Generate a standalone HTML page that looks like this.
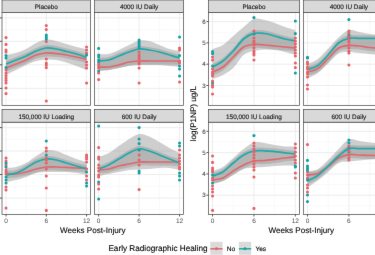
<!DOCTYPE html>
<html><head><meta charset="utf-8"><style>
html,body{margin:0;padding:0;background:#fff;}
body{width:375px;height:255px;overflow:hidden;position:relative;font-family:"Liberation Sans", sans-serif;}
svg text{font-family:"Liberation Sans", sans-serif;text-rendering:geometricPrecision;stroke:#222;stroke-width:0.14;}
</style></head><body>
<svg width="375" height="255" viewBox="0 0 375 255" style="position:absolute;left:0;top:0">
<defs><filter id="bl" color-interpolation-filters="sRGB" x="0" y="0" width="375" height="255" filterUnits="userSpaceOnUse"><feConvolveMatrix order="3" kernelMatrix="0 1 0 1 16 1 0 1 0" edgeMode="duplicate"/></filter></defs>
<g filter="url(#bl)">
<rect width="375" height="255" fill="#fff"/>
<clipPath id="c00"><rect x="2.00" y="12.50" width="88.60" height="92.85"/></clipPath>
<g clip-path="url(#c00)">
<line x1="2.00" x2="90.60" y1="6.20" y2="6.20" stroke="#f2f2f2" stroke-width="0.5"/>
<line x1="2.00" x2="90.60" y1="29.60" y2="29.60" stroke="#f2f2f2" stroke-width="0.5"/>
<line x1="2.00" x2="90.60" y1="53.00" y2="53.00" stroke="#f2f2f2" stroke-width="0.5"/>
<line x1="2.00" x2="90.60" y1="76.40" y2="76.40" stroke="#f2f2f2" stroke-width="0.5"/>
<line x1="2.00" x2="90.60" y1="99.80" y2="99.80" stroke="#f2f2f2" stroke-width="0.5"/>
<line x1="2.00" x2="90.60" y1="123.20" y2="123.20" stroke="#f2f2f2" stroke-width="0.5"/>
<line x1="26.16" x2="26.16" y1="12.50" y2="105.35" stroke="#f2f2f2" stroke-width="0.5"/>
<line x1="66.44" x2="66.44" y1="12.50" y2="105.35" stroke="#f2f2f2" stroke-width="0.5"/>
<line x1="2.00" x2="90.60" y1="17.90" y2="17.90" stroke="#ebebeb" stroke-width="0.9"/>
<line x1="2.00" x2="90.60" y1="41.30" y2="41.30" stroke="#ebebeb" stroke-width="0.9"/>
<line x1="2.00" x2="90.60" y1="64.80" y2="64.80" stroke="#ebebeb" stroke-width="0.9"/>
<line x1="2.00" x2="90.60" y1="88.40" y2="88.40" stroke="#ebebeb" stroke-width="0.9"/>
<line x1="6.03" x2="6.03" y1="12.50" y2="105.35" stroke="#ebebeb" stroke-width="0.9"/>
<line x1="46.30" x2="46.30" y1="12.50" y2="105.35" stroke="#ebebeb" stroke-width="0.9"/>
<line x1="86.57" x2="86.57" y1="12.50" y2="105.35" stroke="#ebebeb" stroke-width="0.9"/>
<path d="M6.03,61.00 C7.71,60.33 12.74,58.33 16.10,57.00 C19.45,55.67 22.81,54.50 26.16,53.00 C29.52,51.50 32.88,49.33 36.23,48.00 C39.59,46.67 42.94,45.33 46.30,45.00 C49.66,44.67 53.01,45.42 56.37,46.00 C59.72,46.58 63.08,47.67 66.44,48.50 C69.79,49.33 73.15,50.00 76.50,51.00 C79.86,52.00 84.89,53.92 86.57,54.50 L86.57,70.00 C84.89,69.33 79.86,67.25 76.50,66.00 C73.15,64.75 69.79,63.50 66.44,62.50 C63.08,61.50 59.72,60.50 56.37,60.00 C53.01,59.50 49.66,59.33 46.30,59.50 C42.94,59.67 39.59,60.08 36.23,61.00 C32.88,61.92 29.52,63.50 26.16,65.00 C22.81,66.50 19.45,68.33 16.10,70.00 C12.74,71.67 7.71,74.17 6.03,75.00 Z" fill="#999" fill-opacity="0.48"/>
<path d="M6.03,55.00 C7.71,54.67 12.74,54.00 16.10,53.00 C19.45,52.00 22.81,50.67 26.16,49.00 C29.52,47.33 32.88,44.58 36.23,43.00 C39.59,41.42 42.94,39.83 46.30,39.50 C49.66,39.17 53.01,40.25 56.37,41.00 C59.72,41.75 63.08,43.00 66.44,44.00 C69.79,45.00 73.15,46.17 76.50,47.00 C79.86,47.83 84.89,48.67 86.57,49.00 L86.57,63.00 C84.89,62.58 79.86,61.25 76.50,60.50 C73.15,59.75 69.79,59.07 66.44,58.50 C63.08,57.93 59.72,57.43 56.37,57.10 C53.01,56.77 49.66,56.27 46.30,56.50 C42.94,56.73 39.59,57.33 36.23,58.50 C32.88,59.67 29.52,62.00 26.16,63.50 C22.81,65.00 19.45,66.17 16.10,67.50 C12.74,68.83 7.71,70.83 6.03,71.50 Z" fill="#999" fill-opacity="0.48"/>
<path d="M6.03,68.00 C7.71,67.33 12.74,65.33 16.10,64.00 C19.45,62.67 22.81,61.50 26.16,60.00 C29.52,58.50 32.88,56.17 36.23,55.00 C39.59,53.83 42.94,53.23 46.30,53.00 C49.66,52.77 53.01,53.27 56.37,53.60 C59.72,53.93 63.08,54.43 66.44,55.00 C69.79,55.57 73.15,56.25 76.50,57.00 C79.86,57.75 84.89,59.08 86.57,59.50" fill="none" stroke="#e0686e" stroke-width="1.7"/>
<path d="M6.03,64.00 C7.71,63.33 12.74,61.33 16.10,60.00 C19.45,58.67 22.81,57.50 26.16,56.00 C29.52,54.50 32.88,52.33 36.23,51.00 C39.59,49.67 42.94,48.33 46.30,48.00 C49.66,47.67 53.01,48.42 56.37,49.00 C59.72,49.58 63.08,50.67 66.44,51.50 C69.79,52.33 73.15,53.00 76.50,54.00 C79.86,55.00 84.89,56.92 86.57,57.50" fill="none" stroke="#1eaaaa" stroke-width="1.7"/>
<circle cx="6.03" cy="37.60" r="1.55" fill="#e4636a"/>
<circle cx="6.03" cy="44.40" r="1.55" fill="#e4636a"/>
<circle cx="6.03" cy="50.00" r="1.55" fill="#e4636a"/>
<circle cx="6.03" cy="52.00" r="1.55" fill="#e4636a"/>
<circle cx="6.03" cy="70.00" r="1.55" fill="#e4636a"/>
<circle cx="6.03" cy="73.00" r="1.55" fill="#e4636a"/>
<circle cx="6.03" cy="75.60" r="1.55" fill="#e4636a"/>
<circle cx="6.03" cy="78.00" r="1.55" fill="#e4636a"/>
<circle cx="6.03" cy="80.40" r="1.55" fill="#e4636a"/>
<circle cx="6.03" cy="83.00" r="1.55" fill="#e4636a"/>
<circle cx="6.03" cy="88.00" r="1.55" fill="#e4636a"/>
<circle cx="6.03" cy="93.60" r="1.55" fill="#e4636a"/>
<circle cx="6.03" cy="55.60" r="1.55" fill="#15a0a3"/>
<circle cx="6.03" cy="58.00" r="1.55" fill="#15a0a3"/>
<circle cx="6.03" cy="67.50" r="1.55" fill="#15a0a3"/>
<circle cx="46.30" cy="25.60" r="1.55" fill="#e4636a"/>
<circle cx="46.30" cy="29.60" r="1.55" fill="#e4636a"/>
<circle cx="46.30" cy="41.60" r="1.55" fill="#e4636a"/>
<circle cx="46.30" cy="59.00" r="1.55" fill="#e4636a"/>
<circle cx="46.30" cy="63.00" r="1.55" fill="#e4636a"/>
<circle cx="46.30" cy="65.00" r="1.55" fill="#e4636a"/>
<circle cx="46.30" cy="67.60" r="1.55" fill="#e4636a"/>
<circle cx="46.30" cy="101.00" r="1.55" fill="#e4636a"/>
<circle cx="46.30" cy="35.00" r="1.55" fill="#15a0a3"/>
<circle cx="46.30" cy="37.00" r="1.55" fill="#15a0a3"/>
<circle cx="46.30" cy="39.00" r="1.55" fill="#15a0a3"/>
<circle cx="86.57" cy="47.00" r="1.55" fill="#e4636a"/>
<circle cx="86.57" cy="50.00" r="1.55" fill="#e4636a"/>
<circle cx="86.57" cy="53.00" r="1.55" fill="#e4636a"/>
<circle cx="86.57" cy="62.00" r="1.55" fill="#e4636a"/>
<circle cx="86.57" cy="65.00" r="1.55" fill="#e4636a"/>
<circle cx="86.57" cy="68.00" r="1.55" fill="#e4636a"/>
<circle cx="86.57" cy="83.00" r="1.55" fill="#e4636a"/>
<circle cx="86.57" cy="55.00" r="1.55" fill="#15a0a3"/>
</g>
<rect x="2.00" y="12.50" width="88.60" height="92.85" fill="none" stroke="#4a4a4a" stroke-width="0.72"/>
<rect x="2.00" y="0.00" width="88.60" height="12.50" fill="#d9d9d9" stroke="#4a4a4a" stroke-width="0.72"/>
<text x="46.30" y="9.05" font-size="6.4" fill="#1a1a1a" text-anchor="middle">Placebo</text>
<line x1="0.00" x2="2.00" y1="17.90" y2="17.90" stroke="#333" stroke-width="0.8"/>
<line x1="0.00" x2="2.00" y1="41.30" y2="41.30" stroke="#333" stroke-width="0.8"/>
<line x1="0.00" x2="2.00" y1="64.80" y2="64.80" stroke="#333" stroke-width="0.8"/>
<line x1="0.00" x2="2.00" y1="88.40" y2="88.40" stroke="#333" stroke-width="0.8"/>
<clipPath id="c01"><rect x="2.00" y="122.20" width="88.60" height="92.30"/></clipPath>
<g clip-path="url(#c01)">
<line x1="2.00" x2="90.60" y1="115.90" y2="115.90" stroke="#f2f2f2" stroke-width="0.5"/>
<line x1="2.00" x2="90.60" y1="139.30" y2="139.30" stroke="#f2f2f2" stroke-width="0.5"/>
<line x1="2.00" x2="90.60" y1="162.70" y2="162.70" stroke="#f2f2f2" stroke-width="0.5"/>
<line x1="2.00" x2="90.60" y1="186.10" y2="186.10" stroke="#f2f2f2" stroke-width="0.5"/>
<line x1="2.00" x2="90.60" y1="209.50" y2="209.50" stroke="#f2f2f2" stroke-width="0.5"/>
<line x1="2.00" x2="90.60" y1="232.90" y2="232.90" stroke="#f2f2f2" stroke-width="0.5"/>
<line x1="26.16" x2="26.16" y1="122.20" y2="214.50" stroke="#f2f2f2" stroke-width="0.5"/>
<line x1="66.44" x2="66.44" y1="122.20" y2="214.50" stroke="#f2f2f2" stroke-width="0.5"/>
<line x1="2.00" x2="90.60" y1="127.60" y2="127.60" stroke="#ebebeb" stroke-width="0.9"/>
<line x1="2.00" x2="90.60" y1="151.00" y2="151.00" stroke="#ebebeb" stroke-width="0.9"/>
<line x1="2.00" x2="90.60" y1="174.50" y2="174.50" stroke="#ebebeb" stroke-width="0.9"/>
<line x1="2.00" x2="90.60" y1="198.10" y2="198.10" stroke="#ebebeb" stroke-width="0.9"/>
<line x1="6.03" x2="6.03" y1="122.20" y2="214.50" stroke="#ebebeb" stroke-width="0.9"/>
<line x1="46.30" x2="46.30" y1="122.20" y2="214.50" stroke="#ebebeb" stroke-width="0.9"/>
<line x1="86.57" x2="86.57" y1="122.20" y2="214.50" stroke="#ebebeb" stroke-width="0.9"/>
<path d="M6.03,171.00 C7.71,170.83 12.74,171.00 16.10,170.00 C19.45,169.00 22.81,166.83 26.16,165.00 C29.52,163.17 32.88,160.50 36.23,159.00 C39.59,157.50 42.94,156.33 46.30,156.00 C49.66,155.67 53.01,156.33 56.37,157.00 C59.72,157.67 63.08,159.00 66.44,160.00 C69.79,161.00 73.15,162.17 76.50,163.00 C79.86,163.83 84.89,164.67 86.57,165.00 L86.57,175.00 C84.89,174.67 79.86,173.50 76.50,173.00 C73.15,172.50 69.79,172.17 66.44,172.00 C63.08,171.83 59.72,172.00 56.37,172.00 C53.01,172.00 49.66,171.83 46.30,172.00 C42.94,172.17 39.59,172.17 36.23,173.00 C32.88,173.83 29.52,175.83 26.16,177.00 C22.81,178.17 19.45,179.17 16.10,180.00 C12.74,180.83 7.71,181.67 6.03,182.00 Z" fill="#999" fill-opacity="0.48"/>
<path d="M6.03,168.00 C7.71,167.83 12.74,167.83 16.10,167.00 C19.45,166.17 22.81,164.83 26.16,163.00 C29.52,161.17 32.88,158.08 36.23,156.00 C39.59,153.92 42.94,151.33 46.30,150.50 C49.66,149.67 53.01,150.25 56.37,151.00 C59.72,151.75 63.08,153.67 66.44,155.00 C69.79,156.33 73.15,157.83 76.50,159.00 C79.86,160.17 84.89,161.50 86.57,162.00 L86.57,172.50 C84.89,172.33 79.86,171.77 76.50,171.50 C73.15,171.23 69.79,171.07 66.44,170.90 C63.08,170.73 59.72,170.57 56.37,170.50 C53.01,170.43 49.66,170.17 46.30,170.50 C42.94,170.83 39.59,171.67 36.23,172.50 C32.88,173.33 29.52,174.67 26.16,175.50 C22.81,176.33 19.45,177.00 16.10,177.50 C12.74,178.00 7.71,178.33 6.03,178.50 Z" fill="#999" fill-opacity="0.48"/>
<path d="M6.03,174.00 C7.71,174.00 12.74,174.33 16.10,174.00 C19.45,173.67 22.81,172.83 26.16,172.00 C29.52,171.17 32.88,169.83 36.23,169.00 C39.59,168.17 42.94,167.33 46.30,167.00 C49.66,166.67 53.01,166.93 56.37,167.00 C59.72,167.07 63.08,167.23 66.44,167.40 C69.79,167.57 73.15,167.90 76.50,168.00 C79.86,168.10 84.89,168.00 86.57,168.00" fill="none" stroke="#e0686e" stroke-width="1.7"/>
<path d="M6.03,175.00 C7.71,174.67 12.74,174.17 16.10,173.00 C19.45,171.83 22.81,169.83 26.16,168.00 C29.52,166.17 32.88,163.50 36.23,162.00 C39.59,160.50 42.94,159.33 46.30,159.00 C49.66,158.67 53.01,159.33 56.37,160.00 C59.72,160.67 63.08,162.00 66.44,163.00 C69.79,164.00 73.15,165.00 76.50,166.00 C79.86,167.00 84.89,168.50 86.57,169.00" fill="none" stroke="#1eaaaa" stroke-width="1.7"/>
<circle cx="6.03" cy="158.00" r="1.55" fill="#e4636a"/>
<circle cx="6.03" cy="161.00" r="1.55" fill="#e4636a"/>
<circle cx="6.03" cy="165.00" r="1.55" fill="#e4636a"/>
<circle cx="6.03" cy="170.00" r="1.55" fill="#e4636a"/>
<circle cx="6.03" cy="172.00" r="1.55" fill="#e4636a"/>
<circle cx="6.03" cy="174.00" r="1.55" fill="#e4636a"/>
<circle cx="6.03" cy="187.00" r="1.55" fill="#e4636a"/>
<circle cx="6.03" cy="190.00" r="1.55" fill="#e4636a"/>
<circle cx="6.03" cy="208.00" r="1.55" fill="#e4636a"/>
<circle cx="6.03" cy="163.00" r="1.55" fill="#15a0a3"/>
<circle cx="6.03" cy="167.00" r="1.55" fill="#15a0a3"/>
<circle cx="6.03" cy="177.00" r="1.55" fill="#15a0a3"/>
<circle cx="6.03" cy="180.00" r="1.55" fill="#15a0a3"/>
<circle cx="6.03" cy="183.00" r="1.55" fill="#15a0a3"/>
<circle cx="46.30" cy="141.00" r="1.55" fill="#15a0a3"/>
<circle cx="46.30" cy="155.00" r="1.55" fill="#15a0a3"/>
<circle cx="46.30" cy="148.00" r="1.55" fill="#e4636a"/>
<circle cx="46.30" cy="151.00" r="1.55" fill="#e4636a"/>
<circle cx="46.30" cy="158.00" r="1.55" fill="#e4636a"/>
<circle cx="46.30" cy="160.00" r="1.55" fill="#e4636a"/>
<circle cx="46.30" cy="163.00" r="1.55" fill="#e4636a"/>
<circle cx="46.30" cy="169.00" r="1.55" fill="#e4636a"/>
<circle cx="46.30" cy="176.00" r="1.55" fill="#e4636a"/>
<circle cx="46.30" cy="188.00" r="1.55" fill="#e4636a"/>
<circle cx="46.30" cy="210.40" r="1.55" fill="#e4636a"/>
<circle cx="86.57" cy="155.00" r="1.55" fill="#e4636a"/>
<circle cx="86.57" cy="157.00" r="1.55" fill="#e4636a"/>
<circle cx="86.57" cy="159.00" r="1.55" fill="#e4636a"/>
<circle cx="86.57" cy="162.00" r="1.55" fill="#e4636a"/>
<circle cx="86.57" cy="176.00" r="1.55" fill="#e4636a"/>
<circle cx="86.57" cy="180.00" r="1.55" fill="#e4636a"/>
<circle cx="86.57" cy="169.00" r="1.55" fill="#e4636a"/>
<circle cx="86.57" cy="172.00" r="1.55" fill="#15a0a3"/>
<circle cx="86.57" cy="183.00" r="1.55" fill="#15a0a3"/>
<circle cx="86.57" cy="186.00" r="1.55" fill="#15a0a3"/>
</g>
<rect x="2.00" y="122.20" width="88.60" height="92.30" fill="none" stroke="#4a4a4a" stroke-width="0.72"/>
<rect x="2.00" y="109.50" width="88.60" height="12.70" fill="#d9d9d9" stroke="#4a4a4a" stroke-width="0.72"/>
<text x="46.30" y="118.65" font-size="6.4" fill="#1a1a1a" text-anchor="middle">150,000 IU Loading</text>
<line x1="6.03" x2="6.03" y1="214.50" y2="216.50" stroke="#333" stroke-width="0.8"/>
<text x="6.03" y="223.30" font-size="6.5" fill="#4d4d4d" style="stroke:none" text-anchor="middle">0</text>
<line x1="46.30" x2="46.30" y1="214.50" y2="216.50" stroke="#333" stroke-width="0.8"/>
<text x="46.30" y="223.30" font-size="6.5" fill="#4d4d4d" style="stroke:none" text-anchor="middle">6</text>
<line x1="86.57" x2="86.57" y1="214.50" y2="216.50" stroke="#333" stroke-width="0.8"/>
<text x="86.57" y="223.30" font-size="6.5" fill="#4d4d4d" style="stroke:none" text-anchor="middle">12</text>
<line x1="0.00" x2="2.00" y1="127.60" y2="127.60" stroke="#333" stroke-width="0.8"/>
<line x1="0.00" x2="2.00" y1="151.00" y2="151.00" stroke="#333" stroke-width="0.8"/>
<line x1="0.00" x2="2.00" y1="174.50" y2="174.50" stroke="#333" stroke-width="0.8"/>
<line x1="0.00" x2="2.00" y1="198.10" y2="198.10" stroke="#333" stroke-width="0.8"/>
<clipPath id="c10"><rect x="94.60" y="12.50" width="89.00" height="92.85"/></clipPath>
<g clip-path="url(#c10)">
<line x1="94.60" x2="183.60" y1="6.20" y2="6.20" stroke="#f2f2f2" stroke-width="0.5"/>
<line x1="94.60" x2="183.60" y1="29.60" y2="29.60" stroke="#f2f2f2" stroke-width="0.5"/>
<line x1="94.60" x2="183.60" y1="53.00" y2="53.00" stroke="#f2f2f2" stroke-width="0.5"/>
<line x1="94.60" x2="183.60" y1="76.40" y2="76.40" stroke="#f2f2f2" stroke-width="0.5"/>
<line x1="94.60" x2="183.60" y1="99.80" y2="99.80" stroke="#f2f2f2" stroke-width="0.5"/>
<line x1="94.60" x2="183.60" y1="123.20" y2="123.20" stroke="#f2f2f2" stroke-width="0.5"/>
<line x1="118.87" x2="118.87" y1="12.50" y2="105.35" stroke="#f2f2f2" stroke-width="0.5"/>
<line x1="159.33" x2="159.33" y1="12.50" y2="105.35" stroke="#f2f2f2" stroke-width="0.5"/>
<line x1="94.60" x2="183.60" y1="17.90" y2="17.90" stroke="#ebebeb" stroke-width="0.9"/>
<line x1="94.60" x2="183.60" y1="41.30" y2="41.30" stroke="#ebebeb" stroke-width="0.9"/>
<line x1="94.60" x2="183.60" y1="64.80" y2="64.80" stroke="#ebebeb" stroke-width="0.9"/>
<line x1="94.60" x2="183.60" y1="88.40" y2="88.40" stroke="#ebebeb" stroke-width="0.9"/>
<line x1="98.65" x2="98.65" y1="12.50" y2="105.35" stroke="#ebebeb" stroke-width="0.9"/>
<line x1="139.10" x2="139.10" y1="12.50" y2="105.35" stroke="#ebebeb" stroke-width="0.9"/>
<line x1="179.55" x2="179.55" y1="12.50" y2="105.35" stroke="#ebebeb" stroke-width="0.9"/>
<path d="M98.65,58.00 C100.33,57.83 105.39,57.83 108.76,57.00 C112.13,56.17 115.50,54.33 118.87,53.00 C122.24,51.67 125.62,50.17 128.99,49.00 C132.36,47.83 135.73,46.33 139.10,46.00 C142.47,45.67 145.84,46.50 149.21,47.00 C152.58,47.50 155.96,48.17 159.33,49.00 C162.70,49.83 166.07,51.00 169.44,52.00 C172.81,53.00 177.87,54.50 179.55,55.00 L179.55,67.00 C177.87,66.83 172.81,66.33 169.44,66.00 C166.07,65.67 162.70,65.17 159.33,65.00 C155.96,64.83 152.58,65.00 149.21,65.00 C145.84,65.00 142.47,64.83 139.10,65.00 C135.73,65.17 132.36,65.50 128.99,66.00 C125.62,66.50 122.24,67.33 118.87,68.00 C115.50,68.67 112.13,69.50 108.76,70.00 C105.39,70.50 100.33,70.83 98.65,71.00 Z" fill="#999" fill-opacity="0.48"/>
<path d="M98.65,54.00 C100.33,54.00 105.39,54.67 108.76,54.00 C112.13,53.33 115.50,51.50 118.87,50.00 C122.24,48.50 125.62,46.58 128.99,45.00 C132.36,43.42 135.73,41.17 139.10,40.50 C142.47,39.83 145.84,40.25 149.21,41.00 C152.58,41.75 155.96,43.67 159.33,45.00 C162.70,46.33 166.07,48.00 169.44,49.00 C172.81,50.00 177.87,50.67 179.55,51.00 L179.55,64.50 C177.87,64.50 172.81,64.50 169.44,64.50 C166.07,64.50 162.70,64.50 159.33,64.50 C155.96,64.50 152.58,64.50 149.21,64.50 C145.84,64.50 142.47,64.33 139.10,64.50 C135.73,64.67 132.36,64.92 128.99,65.50 C125.62,66.08 122.24,67.25 118.87,68.00 C115.50,68.75 112.13,69.58 108.76,70.00 C105.39,70.42 100.33,70.42 98.65,70.50 Z" fill="#999" fill-opacity="0.48"/>
<path d="M98.65,67.00 C100.33,67.00 105.39,67.33 108.76,67.00 C112.13,66.67 115.50,65.83 118.87,65.00 C122.24,64.17 125.62,62.67 128.99,62.00 C132.36,61.33 135.73,61.17 139.10,61.00 C142.47,60.83 145.84,61.00 149.21,61.00 C152.58,61.00 155.96,61.00 159.33,61.00 C162.70,61.00 166.07,61.00 169.44,61.00 C172.81,61.00 177.87,61.00 179.55,61.00" fill="none" stroke="#e0686e" stroke-width="1.7"/>
<path d="M98.65,61.00 C100.33,60.83 105.39,60.83 108.76,60.00 C112.13,59.17 115.50,57.33 118.87,56.00 C122.24,54.67 125.62,53.17 128.99,52.00 C132.36,50.83 135.73,49.33 139.10,49.00 C142.47,48.67 145.84,49.50 149.21,50.00 C152.58,50.50 155.96,51.17 159.33,52.00 C162.70,52.83 166.07,54.00 169.44,55.00 C172.81,56.00 177.87,57.50 179.55,58.00" fill="none" stroke="#1eaaaa" stroke-width="1.7"/>
<circle cx="98.65" cy="48.40" r="1.55" fill="#15a0a3"/>
<circle cx="98.65" cy="55.00" r="1.55" fill="#15a0a3"/>
<circle cx="98.65" cy="57.00" r="1.55" fill="#15a0a3"/>
<circle cx="98.65" cy="60.00" r="1.55" fill="#15a0a3"/>
<circle cx="98.65" cy="62.00" r="1.55" fill="#15a0a3"/>
<circle cx="98.65" cy="71.00" r="1.55" fill="#15a0a3"/>
<circle cx="98.65" cy="64.00" r="1.55" fill="#e4636a"/>
<circle cx="98.65" cy="66.00" r="1.55" fill="#e4636a"/>
<circle cx="98.65" cy="68.00" r="1.55" fill="#e4636a"/>
<circle cx="98.65" cy="73.00" r="1.55" fill="#e4636a"/>
<circle cx="98.65" cy="79.60" r="1.55" fill="#e4636a"/>
<circle cx="139.10" cy="40.00" r="1.55" fill="#15a0a3"/>
<circle cx="139.10" cy="42.00" r="1.55" fill="#15a0a3"/>
<circle cx="139.10" cy="44.00" r="1.55" fill="#15a0a3"/>
<circle cx="139.10" cy="46.00" r="1.55" fill="#15a0a3"/>
<circle cx="139.10" cy="48.00" r="1.55" fill="#15a0a3"/>
<circle cx="139.10" cy="52.00" r="1.55" fill="#e4636a"/>
<circle cx="139.10" cy="55.00" r="1.55" fill="#e4636a"/>
<circle cx="139.10" cy="57.00" r="1.55" fill="#e4636a"/>
<circle cx="139.10" cy="59.00" r="1.55" fill="#e4636a"/>
<circle cx="139.10" cy="62.00" r="1.55" fill="#e4636a"/>
<circle cx="139.10" cy="64.00" r="1.55" fill="#e4636a"/>
<circle cx="139.10" cy="68.00" r="1.55" fill="#e4636a"/>
<circle cx="139.10" cy="83.00" r="1.55" fill="#e4636a"/>
<circle cx="179.55" cy="37.00" r="1.55" fill="#15a0a3"/>
<circle cx="179.55" cy="55.60" r="1.55" fill="#15a0a3"/>
<circle cx="179.55" cy="66.00" r="1.55" fill="#15a0a3"/>
<circle cx="179.55" cy="69.00" r="1.55" fill="#15a0a3"/>
<circle cx="179.55" cy="76.00" r="1.55" fill="#15a0a3"/>
<circle cx="179.55" cy="48.00" r="1.55" fill="#e4636a"/>
<circle cx="179.55" cy="50.00" r="1.55" fill="#e4636a"/>
<circle cx="179.55" cy="61.00" r="1.55" fill="#e4636a"/>
<circle cx="179.55" cy="63.00" r="1.55" fill="#e4636a"/>
<circle cx="179.55" cy="82.00" r="1.55" fill="#e4636a"/>
</g>
<rect x="94.60" y="12.50" width="89.00" height="92.85" fill="none" stroke="#4a4a4a" stroke-width="0.72"/>
<rect x="94.60" y="0.00" width="89.00" height="12.50" fill="#d9d9d9" stroke="#4a4a4a" stroke-width="0.72"/>
<text x="139.10" y="9.05" font-size="6.4" fill="#1a1a1a" text-anchor="middle">4000 IU Daily</text>
<clipPath id="c11"><rect x="94.60" y="122.20" width="89.00" height="92.30"/></clipPath>
<g clip-path="url(#c11)">
<line x1="94.60" x2="183.60" y1="115.90" y2="115.90" stroke="#f2f2f2" stroke-width="0.5"/>
<line x1="94.60" x2="183.60" y1="139.30" y2="139.30" stroke="#f2f2f2" stroke-width="0.5"/>
<line x1="94.60" x2="183.60" y1="162.70" y2="162.70" stroke="#f2f2f2" stroke-width="0.5"/>
<line x1="94.60" x2="183.60" y1="186.10" y2="186.10" stroke="#f2f2f2" stroke-width="0.5"/>
<line x1="94.60" x2="183.60" y1="209.50" y2="209.50" stroke="#f2f2f2" stroke-width="0.5"/>
<line x1="94.60" x2="183.60" y1="232.90" y2="232.90" stroke="#f2f2f2" stroke-width="0.5"/>
<line x1="118.87" x2="118.87" y1="122.20" y2="214.50" stroke="#f2f2f2" stroke-width="0.5"/>
<line x1="159.33" x2="159.33" y1="122.20" y2="214.50" stroke="#f2f2f2" stroke-width="0.5"/>
<line x1="94.60" x2="183.60" y1="127.60" y2="127.60" stroke="#ebebeb" stroke-width="0.9"/>
<line x1="94.60" x2="183.60" y1="151.00" y2="151.00" stroke="#ebebeb" stroke-width="0.9"/>
<line x1="94.60" x2="183.60" y1="174.50" y2="174.50" stroke="#ebebeb" stroke-width="0.9"/>
<line x1="94.60" x2="183.60" y1="198.10" y2="198.10" stroke="#ebebeb" stroke-width="0.9"/>
<line x1="98.65" x2="98.65" y1="122.20" y2="214.50" stroke="#ebebeb" stroke-width="0.9"/>
<line x1="139.10" x2="139.10" y1="122.20" y2="214.50" stroke="#ebebeb" stroke-width="0.9"/>
<line x1="179.55" x2="179.55" y1="122.20" y2="214.50" stroke="#ebebeb" stroke-width="0.9"/>
<path d="M98.65,166.00 C100.33,165.33 105.39,163.67 108.76,162.00 C112.13,160.33 115.50,158.00 118.87,156.00 C122.24,154.00 125.62,151.67 128.99,150.00 C132.36,148.33 135.73,146.33 139.10,146.00 C142.47,145.67 145.84,147.00 149.21,148.00 C152.58,149.00 155.96,150.67 159.33,152.00 C162.70,153.33 166.07,154.83 169.44,156.00 C172.81,157.17 177.87,158.50 179.55,159.00 L179.55,170.00 C177.87,169.67 172.81,168.33 169.44,168.00 C166.07,167.67 162.70,167.83 159.33,168.00 C155.96,168.17 152.58,168.75 149.21,169.00 C145.84,169.25 142.47,169.33 139.10,169.50 C135.73,169.67 132.36,169.58 128.99,170.00 C125.62,170.42 122.24,171.33 118.87,172.00 C115.50,172.67 112.13,173.33 108.76,174.00 C105.39,174.67 100.33,175.67 98.65,176.00 Z" fill="#999" fill-opacity="0.48"/>
<path d="M98.65,157.00 C100.33,156.33 105.39,154.83 108.76,153.00 C112.13,151.17 115.50,148.33 118.87,146.00 C122.24,143.67 125.62,141.00 128.99,139.00 C132.36,137.00 135.73,134.42 139.10,134.00 C142.47,133.58 145.84,135.17 149.21,136.50 C152.58,137.83 155.96,140.08 159.33,142.00 C162.70,143.92 166.07,146.17 169.44,148.00 C172.81,149.83 177.87,152.17 179.55,153.00 L179.55,166.50 C177.87,166.33 172.81,165.67 169.44,165.50 C166.07,165.33 162.70,165.50 159.33,165.50 C155.96,165.50 152.58,165.50 149.21,165.50 C145.84,165.50 142.47,165.17 139.10,165.50 C135.73,165.83 132.36,166.83 128.99,167.50 C125.62,168.17 122.24,168.67 118.87,169.50 C115.50,170.33 112.13,171.83 108.76,172.50 C105.39,173.17 100.33,173.33 98.65,173.50 Z" fill="#999" fill-opacity="0.48"/>
<path d="M98.65,170.00 C100.33,169.83 105.39,169.67 108.76,169.00 C112.13,168.33 115.50,166.83 118.87,166.00 C122.24,165.17 125.62,164.67 128.99,164.00 C132.36,163.33 135.73,162.33 139.10,162.00 C142.47,161.67 145.84,162.00 149.21,162.00 C152.58,162.00 155.96,162.00 159.33,162.00 C162.70,162.00 166.07,162.00 169.44,162.00 C172.81,162.00 177.87,162.00 179.55,162.00" fill="none" stroke="#e0686e" stroke-width="1.7"/>
<path d="M98.65,169.00 C100.33,168.33 105.39,166.67 108.76,165.00 C112.13,163.33 115.50,161.00 118.87,159.00 C122.24,157.00 125.62,154.67 128.99,153.00 C132.36,151.33 135.73,149.33 139.10,149.00 C142.47,148.67 145.84,150.00 149.21,151.00 C152.58,152.00 155.96,153.67 159.33,155.00 C162.70,156.33 166.07,157.67 169.44,159.00 C172.81,160.33 177.87,162.33 179.55,163.00" fill="none" stroke="#1eaaaa" stroke-width="1.7"/>
<circle cx="98.65" cy="126.00" r="1.55" fill="#15a0a3"/>
<circle cx="98.65" cy="182.00" r="1.55" fill="#15a0a3"/>
<circle cx="98.65" cy="199.00" r="1.55" fill="#15a0a3"/>
<circle cx="98.65" cy="147.60" r="1.55" fill="#e4636a"/>
<circle cx="98.65" cy="157.00" r="1.55" fill="#e4636a"/>
<circle cx="98.65" cy="159.00" r="1.55" fill="#e4636a"/>
<circle cx="98.65" cy="165.00" r="1.55" fill="#e4636a"/>
<circle cx="98.65" cy="168.00" r="1.55" fill="#e4636a"/>
<circle cx="98.65" cy="171.00" r="1.55" fill="#e4636a"/>
<circle cx="98.65" cy="175.00" r="1.55" fill="#e4636a"/>
<circle cx="98.65" cy="177.00" r="1.55" fill="#e4636a"/>
<circle cx="98.65" cy="184.00" r="1.55" fill="#e4636a"/>
<circle cx="98.65" cy="189.00" r="1.55" fill="#e4636a"/>
<circle cx="139.10" cy="127.60" r="1.55" fill="#15a0a3"/>
<circle cx="139.10" cy="139.00" r="1.55" fill="#15a0a3"/>
<circle cx="139.10" cy="143.60" r="1.55" fill="#15a0a3"/>
<circle cx="139.10" cy="150.00" r="1.55" fill="#15a0a3"/>
<circle cx="139.10" cy="171.00" r="1.55" fill="#15a0a3"/>
<circle cx="139.10" cy="173.00" r="1.55" fill="#15a0a3"/>
<circle cx="139.10" cy="155.00" r="1.55" fill="#e4636a"/>
<circle cx="139.10" cy="160.00" r="1.55" fill="#e4636a"/>
<circle cx="139.10" cy="165.00" r="1.55" fill="#e4636a"/>
<circle cx="139.10" cy="189.60" r="1.55" fill="#e4636a"/>
<circle cx="179.55" cy="143.00" r="1.55" fill="#15a0a3"/>
<circle cx="179.55" cy="146.00" r="1.55" fill="#15a0a3"/>
<circle cx="179.55" cy="173.00" r="1.55" fill="#15a0a3"/>
<circle cx="179.55" cy="176.00" r="1.55" fill="#15a0a3"/>
<circle cx="179.55" cy="180.00" r="1.55" fill="#15a0a3"/>
<circle cx="179.55" cy="150.00" r="1.55" fill="#e4636a"/>
<circle cx="179.55" cy="155.00" r="1.55" fill="#e4636a"/>
<circle cx="179.55" cy="158.00" r="1.55" fill="#e4636a"/>
<circle cx="179.55" cy="161.00" r="1.55" fill="#e4636a"/>
<circle cx="179.55" cy="164.00" r="1.55" fill="#e4636a"/>
<circle cx="179.55" cy="167.00" r="1.55" fill="#e4636a"/>
<circle cx="179.55" cy="169.00" r="1.55" fill="#e4636a"/>
</g>
<rect x="94.60" y="122.20" width="89.00" height="92.30" fill="none" stroke="#4a4a4a" stroke-width="0.72"/>
<rect x="94.60" y="109.50" width="89.00" height="12.70" fill="#d9d9d9" stroke="#4a4a4a" stroke-width="0.72"/>
<text x="139.10" y="118.65" font-size="6.4" fill="#1a1a1a" text-anchor="middle">600 IU Daily</text>
<line x1="98.65" x2="98.65" y1="214.50" y2="216.50" stroke="#333" stroke-width="0.8"/>
<text x="98.65" y="223.30" font-size="6.5" fill="#4d4d4d" style="stroke:none" text-anchor="middle">0</text>
<line x1="139.10" x2="139.10" y1="214.50" y2="216.50" stroke="#333" stroke-width="0.8"/>
<text x="139.10" y="223.30" font-size="6.5" fill="#4d4d4d" style="stroke:none" text-anchor="middle">6</text>
<line x1="179.55" x2="179.55" y1="214.50" y2="216.50" stroke="#333" stroke-width="0.8"/>
<text x="179.55" y="223.30" font-size="6.5" fill="#4d4d4d" style="stroke:none" text-anchor="middle">12</text>
<clipPath id="c20"><rect x="208.40" y="12.50" width="91.10" height="92.85"/></clipPath>
<g clip-path="url(#c20)">
<line x1="208.40" x2="299.50" y1="10.95" y2="10.95" stroke="#f2f2f2" stroke-width="0.5"/>
<line x1="208.40" x2="299.50" y1="32.25" y2="32.25" stroke="#f2f2f2" stroke-width="0.5"/>
<line x1="208.40" x2="299.50" y1="53.55" y2="53.55" stroke="#f2f2f2" stroke-width="0.5"/>
<line x1="208.40" x2="299.50" y1="74.85" y2="74.85" stroke="#f2f2f2" stroke-width="0.5"/>
<line x1="208.40" x2="299.50" y1="96.15" y2="96.15" stroke="#f2f2f2" stroke-width="0.5"/>
<line x1="208.40" x2="299.50" y1="117.45" y2="117.45" stroke="#f2f2f2" stroke-width="0.5"/>
<line x1="233.25" x2="233.25" y1="12.50" y2="105.35" stroke="#f2f2f2" stroke-width="0.5"/>
<line x1="274.65" x2="274.65" y1="12.50" y2="105.35" stroke="#f2f2f2" stroke-width="0.5"/>
<line x1="208.40" x2="299.50" y1="21.60" y2="21.60" stroke="#ebebeb" stroke-width="0.9"/>
<line x1="208.40" x2="299.50" y1="42.90" y2="42.90" stroke="#ebebeb" stroke-width="0.9"/>
<line x1="208.40" x2="299.50" y1="64.20" y2="64.20" stroke="#ebebeb" stroke-width="0.9"/>
<line x1="208.40" x2="299.50" y1="85.50" y2="85.50" stroke="#ebebeb" stroke-width="0.9"/>
<line x1="212.54" x2="212.54" y1="12.50" y2="105.35" stroke="#ebebeb" stroke-width="0.9"/>
<line x1="253.95" x2="253.95" y1="12.50" y2="105.35" stroke="#ebebeb" stroke-width="0.9"/>
<line x1="295.36" x2="295.36" y1="12.50" y2="105.35" stroke="#ebebeb" stroke-width="0.9"/>
<path d="M212.54,64.00 C214.27,63.00 219.44,60.67 222.89,58.00 C226.34,55.33 229.79,51.67 233.25,48.00 C236.70,44.33 240.15,38.93 243.60,36.00 C247.05,33.07 250.50,31.32 253.95,30.40 C257.40,29.48 260.85,30.07 264.30,30.50 C267.75,30.93 271.20,32.08 274.65,33.00 C278.11,33.92 281.56,35.17 285.01,36.00 C288.46,36.83 293.63,37.67 295.36,38.00 L295.36,55.00 C293.63,54.50 288.46,52.83 285.01,52.00 C281.56,51.17 278.11,50.42 274.65,50.00 C271.20,49.58 267.75,49.33 264.30,49.50 C260.85,49.67 257.40,50.08 253.95,51.00 C250.50,51.92 247.05,52.17 243.60,55.00 C240.15,57.83 236.70,64.67 233.25,68.00 C229.79,71.33 226.34,73.17 222.89,75.00 C219.44,76.83 214.27,78.33 212.54,79.00 Z" fill="#999" fill-opacity="0.48"/>
<path d="M212.54,49.00 C214.27,48.33 219.44,47.17 222.89,45.00 C226.34,42.83 229.79,39.00 233.25,36.00 C236.70,33.00 240.15,29.83 243.60,27.00 C247.05,24.17 250.50,20.17 253.95,19.00 C257.40,17.83 260.85,19.33 264.30,20.00 C267.75,20.67 271.20,21.83 274.65,23.00 C278.11,24.17 281.56,25.83 285.01,27.00 C288.46,28.17 293.63,29.50 295.36,30.00 L295.36,51.50 C293.63,51.33 288.46,50.83 285.01,50.50 C281.56,50.17 278.11,49.83 274.65,49.50 C271.20,49.17 267.75,48.77 264.30,48.50 C260.85,48.23 257.40,47.57 253.95,47.90 C250.50,48.23 247.05,48.40 243.60,50.50 C240.15,52.60 236.70,57.17 233.25,60.50 C229.79,63.83 226.34,68.00 222.89,70.50 C219.44,73.00 214.27,74.67 212.54,75.50 Z" fill="#999" fill-opacity="0.48"/>
<path d="M212.54,72.00 C214.27,71.17 219.44,69.50 222.89,67.00 C226.34,64.50 229.79,60.33 233.25,57.00 C236.70,53.67 240.15,49.10 243.60,47.00 C247.05,44.90 250.50,44.73 253.95,44.40 C257.40,44.07 260.85,44.73 264.30,45.00 C267.75,45.27 271.20,45.67 274.65,46.00 C278.11,46.33 281.56,46.67 285.01,47.00 C288.46,47.33 293.63,47.83 295.36,48.00" fill="none" stroke="#e0686e" stroke-width="1.7"/>
<path d="M212.54,67.00 C214.27,66.00 219.44,63.67 222.89,61.00 C226.34,58.33 229.79,54.67 233.25,51.00 C236.70,47.33 240.15,41.93 243.60,39.00 C247.05,36.07 250.50,34.32 253.95,33.40 C257.40,32.48 260.85,33.07 264.30,33.50 C267.75,33.93 271.20,35.08 274.65,36.00 C278.11,36.92 281.56,38.17 285.01,39.00 C288.46,39.83 293.63,40.67 295.36,41.00" fill="none" stroke="#1eaaaa" stroke-width="1.7"/>
<circle cx="212.54" cy="51.60" r="1.55" fill="#15a0a3"/>
<circle cx="212.54" cy="53.60" r="1.55" fill="#15a0a3"/>
<circle cx="212.54" cy="66.00" r="1.55" fill="#15a0a3"/>
<circle cx="212.54" cy="83.00" r="1.55" fill="#15a0a3"/>
<circle cx="212.54" cy="57.00" r="1.55" fill="#e4636a"/>
<circle cx="212.54" cy="60.00" r="1.55" fill="#e4636a"/>
<circle cx="212.54" cy="69.00" r="1.55" fill="#e4636a"/>
<circle cx="212.54" cy="72.00" r="1.55" fill="#e4636a"/>
<circle cx="212.54" cy="74.00" r="1.55" fill="#e4636a"/>
<circle cx="212.54" cy="76.00" r="1.55" fill="#e4636a"/>
<circle cx="212.54" cy="81.00" r="1.55" fill="#e4636a"/>
<circle cx="212.54" cy="85.00" r="1.55" fill="#e4636a"/>
<circle cx="212.54" cy="87.00" r="1.55" fill="#e4636a"/>
<circle cx="212.54" cy="94.00" r="1.55" fill="#e4636a"/>
<circle cx="253.95" cy="17.60" r="1.55" fill="#15a0a3"/>
<circle cx="253.95" cy="34.00" r="1.55" fill="#15a0a3"/>
<circle cx="253.95" cy="31.00" r="1.55" fill="#e4636a"/>
<circle cx="253.95" cy="38.00" r="1.55" fill="#e4636a"/>
<circle cx="253.95" cy="41.00" r="1.55" fill="#e4636a"/>
<circle cx="253.95" cy="43.00" r="1.55" fill="#e4636a"/>
<circle cx="253.95" cy="45.00" r="1.55" fill="#e4636a"/>
<circle cx="253.95" cy="48.00" r="1.55" fill="#e4636a"/>
<circle cx="253.95" cy="51.00" r="1.55" fill="#e4636a"/>
<circle cx="253.95" cy="53.00" r="1.55" fill="#e4636a"/>
<circle cx="253.95" cy="55.00" r="1.55" fill="#e4636a"/>
<circle cx="253.95" cy="60.00" r="1.55" fill="#e4636a"/>
<circle cx="295.36" cy="21.00" r="1.55" fill="#15a0a3"/>
<circle cx="295.36" cy="33.60" r="1.55" fill="#15a0a3"/>
<circle cx="295.36" cy="73.00" r="1.55" fill="#15a0a3"/>
<circle cx="295.36" cy="38.00" r="1.55" fill="#e4636a"/>
<circle cx="295.36" cy="41.00" r="1.55" fill="#e4636a"/>
<circle cx="295.36" cy="44.00" r="1.55" fill="#e4636a"/>
<circle cx="295.36" cy="47.00" r="1.55" fill="#e4636a"/>
<circle cx="295.36" cy="50.00" r="1.55" fill="#e4636a"/>
<circle cx="295.36" cy="53.00" r="1.55" fill="#e4636a"/>
<circle cx="295.36" cy="56.00" r="1.55" fill="#e4636a"/>
<circle cx="295.36" cy="63.00" r="1.55" fill="#e4636a"/>
<circle cx="295.36" cy="67.60" r="1.55" fill="#e4636a"/>
</g>
<rect x="208.40" y="12.50" width="91.10" height="92.85" fill="none" stroke="#4a4a4a" stroke-width="0.72"/>
<rect x="208.40" y="0.00" width="91.10" height="12.50" fill="#d9d9d9" stroke="#4a4a4a" stroke-width="0.72"/>
<text x="253.95" y="9.05" font-size="6.4" fill="#1a1a1a" text-anchor="middle">Placebo</text>
<line x1="206.40" x2="208.40" y1="21.60" y2="21.60" stroke="#333" stroke-width="0.8"/>
<line x1="206.40" x2="208.40" y1="42.90" y2="42.90" stroke="#333" stroke-width="0.8"/>
<line x1="206.40" x2="208.40" y1="64.20" y2="64.20" stroke="#333" stroke-width="0.8"/>
<line x1="206.40" x2="208.40" y1="85.50" y2="85.50" stroke="#333" stroke-width="0.8"/>
<text x="205.80" y="23.80" font-size="6.2" fill="#4d4d4d" style="stroke:#4d4d4d;stroke-width:0.1px" text-anchor="end">6</text>
<text x="205.80" y="45.10" font-size="6.2" fill="#4d4d4d" style="stroke:#4d4d4d;stroke-width:0.1px" text-anchor="end">5</text>
<text x="205.80" y="66.40" font-size="6.2" fill="#4d4d4d" style="stroke:#4d4d4d;stroke-width:0.1px" text-anchor="end">4</text>
<text x="205.80" y="87.70" font-size="6.2" fill="#4d4d4d" style="stroke:#4d4d4d;stroke-width:0.1px" text-anchor="end">3</text>
<clipPath id="c21"><rect x="208.40" y="122.20" width="91.10" height="92.30"/></clipPath>
<g clip-path="url(#c21)">
<line x1="208.40" x2="299.50" y1="120.65" y2="120.65" stroke="#f2f2f2" stroke-width="0.5"/>
<line x1="208.40" x2="299.50" y1="141.95" y2="141.95" stroke="#f2f2f2" stroke-width="0.5"/>
<line x1="208.40" x2="299.50" y1="163.25" y2="163.25" stroke="#f2f2f2" stroke-width="0.5"/>
<line x1="208.40" x2="299.50" y1="184.55" y2="184.55" stroke="#f2f2f2" stroke-width="0.5"/>
<line x1="208.40" x2="299.50" y1="205.85" y2="205.85" stroke="#f2f2f2" stroke-width="0.5"/>
<line x1="208.40" x2="299.50" y1="227.15" y2="227.15" stroke="#f2f2f2" stroke-width="0.5"/>
<line x1="233.25" x2="233.25" y1="122.20" y2="214.50" stroke="#f2f2f2" stroke-width="0.5"/>
<line x1="274.65" x2="274.65" y1="122.20" y2="214.50" stroke="#f2f2f2" stroke-width="0.5"/>
<line x1="208.40" x2="299.50" y1="131.30" y2="131.30" stroke="#ebebeb" stroke-width="0.9"/>
<line x1="208.40" x2="299.50" y1="152.60" y2="152.60" stroke="#ebebeb" stroke-width="0.9"/>
<line x1="208.40" x2="299.50" y1="173.90" y2="173.90" stroke="#ebebeb" stroke-width="0.9"/>
<line x1="208.40" x2="299.50" y1="195.20" y2="195.20" stroke="#ebebeb" stroke-width="0.9"/>
<line x1="212.54" x2="212.54" y1="122.20" y2="214.50" stroke="#ebebeb" stroke-width="0.9"/>
<line x1="253.95" x2="253.95" y1="122.20" y2="214.50" stroke="#ebebeb" stroke-width="0.9"/>
<line x1="295.36" x2="295.36" y1="122.20" y2="214.50" stroke="#ebebeb" stroke-width="0.9"/>
<path d="M212.54,173.00 C214.27,172.33 219.44,171.17 222.89,169.00 C226.34,166.83 229.79,162.83 233.25,160.00 C236.70,157.17 240.15,154.00 243.60,152.00 C247.05,150.00 250.50,148.70 253.95,148.00 C257.40,147.30 260.85,147.70 264.30,147.80 C267.75,147.90 271.20,148.27 274.65,148.60 C278.11,148.93 281.56,149.40 285.01,149.80 C288.46,150.20 293.63,150.80 295.36,151.00 L295.36,166.00 C293.63,165.92 288.46,165.50 285.01,165.50 C281.56,165.50 278.11,165.75 274.65,166.00 C271.20,166.25 267.75,166.75 264.30,167.00 C260.85,167.25 257.40,167.17 253.95,167.50 C250.50,167.83 247.05,167.75 243.60,169.00 C240.15,170.25 236.70,173.00 233.25,175.00 C229.79,177.00 226.34,179.50 222.89,181.00 C219.44,182.50 214.27,183.50 212.54,184.00 Z" fill="#999" fill-opacity="0.48"/>
<path d="M212.54,171.00 C214.27,170.33 219.44,169.17 222.89,167.00 C226.34,164.83 229.79,161.00 233.25,158.00 C236.70,155.00 240.15,151.58 243.60,149.00 C247.05,146.42 250.50,143.50 253.95,142.50 C257.40,141.50 260.85,142.58 264.30,143.00 C267.75,143.42 271.20,144.42 274.65,145.00 C278.11,145.58 281.56,146.25 285.01,146.50 C288.46,146.75 293.63,146.50 295.36,146.50 L295.36,160.50 C293.63,160.67 288.46,161.10 285.01,161.50 C281.56,161.90 278.11,162.47 274.65,162.90 C271.20,163.33 267.75,163.83 264.30,164.10 C260.85,164.37 257.40,163.77 253.95,164.50 C250.50,165.23 247.05,166.83 243.60,168.50 C240.15,170.17 236.70,172.42 233.25,174.50 C229.79,176.58 226.34,179.50 222.89,181.00 C219.44,182.50 214.27,183.08 212.54,183.50 Z" fill="#999" fill-opacity="0.48"/>
<path d="M212.54,180.00 C214.27,179.67 219.44,179.50 222.89,178.00 C226.34,176.50 229.79,173.17 233.25,171.00 C236.70,168.83 240.15,166.67 243.60,165.00 C247.05,163.33 250.50,161.73 253.95,161.00 C257.40,160.27 260.85,160.87 264.30,160.60 C267.75,160.33 271.20,159.83 274.65,159.40 C278.11,158.97 281.56,158.40 285.01,158.00 C288.46,157.60 293.63,157.17 295.36,157.00" fill="none" stroke="#e0686e" stroke-width="1.7"/>
<path d="M212.54,176.00 C214.27,175.33 219.44,174.17 222.89,172.00 C226.34,169.83 229.79,165.83 233.25,163.00 C236.70,160.17 240.15,157.00 243.60,155.00 C247.05,153.00 250.50,151.70 253.95,151.00 C257.40,150.30 260.85,150.70 264.30,150.80 C267.75,150.90 271.20,151.27 274.65,151.60 C278.11,151.93 281.56,152.40 285.01,152.80 C288.46,153.20 293.63,153.80 295.36,154.00" fill="none" stroke="#1eaaaa" stroke-width="1.7"/>
<circle cx="212.54" cy="156.00" r="1.55" fill="#e4636a"/>
<circle cx="212.54" cy="162.40" r="1.55" fill="#e4636a"/>
<circle cx="212.54" cy="168.00" r="1.55" fill="#e4636a"/>
<circle cx="212.54" cy="170.00" r="1.55" fill="#e4636a"/>
<circle cx="212.54" cy="172.00" r="1.55" fill="#e4636a"/>
<circle cx="212.54" cy="178.00" r="1.55" fill="#e4636a"/>
<circle cx="212.54" cy="180.00" r="1.55" fill="#e4636a"/>
<circle cx="212.54" cy="186.00" r="1.55" fill="#e4636a"/>
<circle cx="212.54" cy="189.00" r="1.55" fill="#e4636a"/>
<circle cx="212.54" cy="192.00" r="1.55" fill="#e4636a"/>
<circle cx="212.54" cy="196.00" r="1.55" fill="#e4636a"/>
<circle cx="212.54" cy="210.40" r="1.55" fill="#e4636a"/>
<circle cx="212.54" cy="175.00" r="1.55" fill="#15a0a3"/>
<circle cx="212.54" cy="183.00" r="1.55" fill="#15a0a3"/>
<circle cx="253.95" cy="135.60" r="1.55" fill="#15a0a3"/>
<circle cx="253.95" cy="143.00" r="1.55" fill="#e4636a"/>
<circle cx="253.95" cy="146.00" r="1.55" fill="#e4636a"/>
<circle cx="253.95" cy="149.00" r="1.55" fill="#e4636a"/>
<circle cx="253.95" cy="152.00" r="1.55" fill="#e4636a"/>
<circle cx="253.95" cy="155.00" r="1.55" fill="#e4636a"/>
<circle cx="253.95" cy="158.00" r="1.55" fill="#e4636a"/>
<circle cx="253.95" cy="161.00" r="1.55" fill="#e4636a"/>
<circle cx="253.95" cy="164.00" r="1.55" fill="#e4636a"/>
<circle cx="253.95" cy="167.00" r="1.55" fill="#e4636a"/>
<circle cx="253.95" cy="170.00" r="1.55" fill="#e4636a"/>
<circle cx="253.95" cy="177.00" r="1.55" fill="#e4636a"/>
<circle cx="253.95" cy="208.40" r="1.55" fill="#e4636a"/>
<circle cx="295.36" cy="144.00" r="1.55" fill="#e4636a"/>
<circle cx="295.36" cy="148.00" r="1.55" fill="#e4636a"/>
<circle cx="295.36" cy="152.00" r="1.55" fill="#e4636a"/>
<circle cx="295.36" cy="156.00" r="1.55" fill="#e4636a"/>
<circle cx="295.36" cy="160.00" r="1.55" fill="#e4636a"/>
<circle cx="295.36" cy="163.00" r="1.55" fill="#e4636a"/>
<circle cx="295.36" cy="173.00" r="1.55" fill="#e4636a"/>
<circle cx="295.36" cy="178.00" r="1.55" fill="#e4636a"/>
<circle cx="295.36" cy="166.00" r="1.55" fill="#15a0a3"/>
<circle cx="295.36" cy="167.00" r="1.55" fill="#15a0a3"/>
</g>
<rect x="208.40" y="122.20" width="91.10" height="92.30" fill="none" stroke="#4a4a4a" stroke-width="0.72"/>
<rect x="208.40" y="109.50" width="91.10" height="12.70" fill="#d9d9d9" stroke="#4a4a4a" stroke-width="0.72"/>
<text x="253.95" y="118.65" font-size="6.4" fill="#1a1a1a" text-anchor="middle">150,000 IU Loading</text>
<line x1="212.54" x2="212.54" y1="214.50" y2="216.50" stroke="#333" stroke-width="0.8"/>
<text x="212.54" y="223.30" font-size="6.5" fill="#4d4d4d" style="stroke:none" text-anchor="middle">0</text>
<line x1="253.95" x2="253.95" y1="214.50" y2="216.50" stroke="#333" stroke-width="0.8"/>
<text x="253.95" y="223.30" font-size="6.5" fill="#4d4d4d" style="stroke:none" text-anchor="middle">6</text>
<line x1="295.36" x2="295.36" y1="214.50" y2="216.50" stroke="#333" stroke-width="0.8"/>
<text x="295.36" y="223.30" font-size="6.5" fill="#4d4d4d" style="stroke:none" text-anchor="middle">12</text>
<line x1="206.40" x2="208.40" y1="131.30" y2="131.30" stroke="#333" stroke-width="0.8"/>
<line x1="206.40" x2="208.40" y1="152.60" y2="152.60" stroke="#333" stroke-width="0.8"/>
<line x1="206.40" x2="208.40" y1="173.90" y2="173.90" stroke="#333" stroke-width="0.8"/>
<line x1="206.40" x2="208.40" y1="195.20" y2="195.20" stroke="#333" stroke-width="0.8"/>
<text x="205.80" y="133.50" font-size="6.2" fill="#4d4d4d" style="stroke:#4d4d4d;stroke-width:0.1px" text-anchor="end">6</text>
<text x="205.80" y="154.80" font-size="6.2" fill="#4d4d4d" style="stroke:#4d4d4d;stroke-width:0.1px" text-anchor="end">5</text>
<text x="205.80" y="176.10" font-size="6.2" fill="#4d4d4d" style="stroke:#4d4d4d;stroke-width:0.1px" text-anchor="end">4</text>
<text x="205.80" y="197.40" font-size="6.2" fill="#4d4d4d" style="stroke:#4d4d4d;stroke-width:0.1px" text-anchor="end">3</text>
<clipPath id="c30"><rect x="303.35" y="12.50" width="91.10" height="92.85"/></clipPath>
<g clip-path="url(#c30)">
<line x1="303.35" x2="394.45" y1="10.95" y2="10.95" stroke="#f2f2f2" stroke-width="0.5"/>
<line x1="303.35" x2="394.45" y1="32.25" y2="32.25" stroke="#f2f2f2" stroke-width="0.5"/>
<line x1="303.35" x2="394.45" y1="53.55" y2="53.55" stroke="#f2f2f2" stroke-width="0.5"/>
<line x1="303.35" x2="394.45" y1="74.85" y2="74.85" stroke="#f2f2f2" stroke-width="0.5"/>
<line x1="303.35" x2="394.45" y1="96.15" y2="96.15" stroke="#f2f2f2" stroke-width="0.5"/>
<line x1="303.35" x2="394.45" y1="117.45" y2="117.45" stroke="#f2f2f2" stroke-width="0.5"/>
<line x1="328.20" x2="328.20" y1="12.50" y2="105.35" stroke="#f2f2f2" stroke-width="0.5"/>
<line x1="369.60" x2="369.60" y1="12.50" y2="105.35" stroke="#f2f2f2" stroke-width="0.5"/>
<line x1="303.35" x2="394.45" y1="21.60" y2="21.60" stroke="#ebebeb" stroke-width="0.9"/>
<line x1="303.35" x2="394.45" y1="42.90" y2="42.90" stroke="#ebebeb" stroke-width="0.9"/>
<line x1="303.35" x2="394.45" y1="64.20" y2="64.20" stroke="#ebebeb" stroke-width="0.9"/>
<line x1="303.35" x2="394.45" y1="85.50" y2="85.50" stroke="#ebebeb" stroke-width="0.9"/>
<line x1="307.49" x2="307.49" y1="12.50" y2="105.35" stroke="#ebebeb" stroke-width="0.9"/>
<line x1="348.90" x2="348.90" y1="12.50" y2="105.35" stroke="#ebebeb" stroke-width="0.9"/>
<line x1="390.31" x2="390.31" y1="12.50" y2="105.35" stroke="#ebebeb" stroke-width="0.9"/>
<path d="M307.49,66.50 C309.22,65.83 314.39,64.92 317.84,62.50 C321.29,60.08 324.74,55.75 328.20,52.00 C331.65,48.25 335.10,42.78 338.55,40.00 C342.00,37.22 345.45,36.08 348.90,35.30 C352.35,34.52 355.80,35.28 359.25,35.30 C362.70,35.32 366.15,35.37 369.60,35.40 C373.06,35.43 376.51,35.48 379.96,35.50 C383.41,35.52 388.58,35.50 390.31,35.50 L390.31,55.50 C388.58,55.42 383.41,55.25 379.96,55.00 C376.51,54.75 373.06,54.33 369.60,54.00 C366.15,53.67 362.70,53.33 359.25,53.00 C355.80,52.67 352.35,51.92 348.90,52.00 C345.45,52.08 342.00,51.58 338.55,53.50 C335.10,55.42 331.65,60.25 328.20,63.50 C324.74,66.75 321.29,70.50 317.84,73.00 C314.39,75.50 309.22,77.58 307.49,78.50 Z" fill="#999" fill-opacity="0.48"/>
<path d="M307.49,64.00 C309.22,63.17 314.39,61.58 317.84,59.00 C321.29,56.42 324.74,52.08 328.20,48.50 C331.65,44.92 335.10,40.58 338.55,37.50 C342.00,34.42 345.45,30.92 348.90,30.00 C352.35,29.08 355.80,31.33 359.25,32.00 C362.70,32.67 366.15,33.50 369.60,34.00 C373.06,34.50 376.51,34.75 379.96,35.00 C383.41,35.25 388.58,35.42 390.31,35.50 L390.31,53.00 C388.58,52.83 383.41,52.33 379.96,52.00 C376.51,51.67 373.06,51.42 369.60,51.00 C366.15,50.58 362.70,49.83 359.25,49.50 C355.80,49.17 352.35,48.67 348.90,49.00 C345.45,49.33 342.00,49.33 338.55,51.50 C335.10,53.67 331.65,58.58 328.20,62.00 C324.74,65.42 321.29,69.75 317.84,72.00 C314.39,74.25 309.22,74.92 307.49,75.50 Z" fill="#999" fill-opacity="0.48"/>
<path d="M307.49,72.00 C309.22,71.42 314.39,70.75 317.84,68.50 C321.29,66.25 324.74,61.92 328.20,58.50 C331.65,55.08 335.10,50.17 338.55,48.00 C342.00,45.83 345.45,45.83 348.90,45.50 C352.35,45.17 355.80,45.67 359.25,46.00 C362.70,46.33 366.15,47.08 369.60,47.50 C373.06,47.92 376.51,48.17 379.96,48.50 C383.41,48.83 388.58,49.33 390.31,49.50" fill="none" stroke="#e0686e" stroke-width="1.7"/>
<path d="M307.49,69.50 C309.22,68.83 314.39,67.92 317.84,65.50 C321.29,63.08 324.74,58.75 328.20,55.00 C331.65,51.25 335.10,45.78 338.55,43.00 C342.00,40.22 345.45,39.08 348.90,38.30 C352.35,37.52 355.80,38.28 359.25,38.30 C362.70,38.32 366.15,38.37 369.60,38.40 C373.06,38.43 376.51,38.48 379.96,38.50 C383.41,38.52 388.58,38.50 390.31,38.50" fill="none" stroke="#1eaaaa" stroke-width="1.7"/>
<circle cx="307.49" cy="57.40" r="1.55" fill="#15a0a3"/>
<circle cx="307.49" cy="58.00" r="1.55" fill="#15a0a3"/>
<circle cx="307.49" cy="62.00" r="1.55" fill="#e4636a"/>
<circle cx="307.49" cy="64.00" r="1.55" fill="#e4636a"/>
<circle cx="307.49" cy="67.00" r="1.55" fill="#e4636a"/>
<circle cx="307.49" cy="69.00" r="1.55" fill="#e4636a"/>
<circle cx="307.49" cy="72.00" r="1.55" fill="#e4636a"/>
<circle cx="307.49" cy="74.00" r="1.55" fill="#e4636a"/>
<circle cx="307.49" cy="77.00" r="1.55" fill="#e4636a"/>
<circle cx="307.49" cy="85.00" r="1.55" fill="#e4636a"/>
<circle cx="307.49" cy="89.00" r="1.55" fill="#e4636a"/>
<circle cx="348.90" cy="19.60" r="1.55" fill="#15a0a3"/>
<circle cx="348.90" cy="35.00" r="1.55" fill="#15a0a3"/>
<circle cx="348.90" cy="37.00" r="1.55" fill="#15a0a3"/>
<circle cx="348.90" cy="31.00" r="1.55" fill="#e4636a"/>
<circle cx="348.90" cy="33.00" r="1.55" fill="#e4636a"/>
<circle cx="348.90" cy="37.00" r="1.55" fill="#e4636a"/>
<circle cx="348.90" cy="40.00" r="1.55" fill="#e4636a"/>
<circle cx="348.90" cy="42.00" r="1.55" fill="#e4636a"/>
<circle cx="348.90" cy="45.00" r="1.55" fill="#e4636a"/>
<circle cx="348.90" cy="48.00" r="1.55" fill="#e4636a"/>
<circle cx="348.90" cy="51.00" r="1.55" fill="#e4636a"/>
<circle cx="348.90" cy="53.00" r="1.55" fill="#e4636a"/>
<circle cx="348.90" cy="65.00" r="1.55" fill="#e4636a"/>
</g>
<rect x="303.35" y="12.50" width="91.10" height="92.85" fill="none" stroke="#4a4a4a" stroke-width="0.72"/>
<rect x="303.35" y="0.00" width="91.10" height="12.50" fill="#d9d9d9" stroke="#4a4a4a" stroke-width="0.72"/>
<text x="348.90" y="9.05" font-size="6.4" fill="#1a1a1a" text-anchor="middle">4000 IU Daily</text>
<clipPath id="c31"><rect x="303.35" y="122.20" width="91.10" height="92.30"/></clipPath>
<g clip-path="url(#c31)">
<line x1="303.35" x2="394.45" y1="120.65" y2="120.65" stroke="#f2f2f2" stroke-width="0.5"/>
<line x1="303.35" x2="394.45" y1="141.95" y2="141.95" stroke="#f2f2f2" stroke-width="0.5"/>
<line x1="303.35" x2="394.45" y1="163.25" y2="163.25" stroke="#f2f2f2" stroke-width="0.5"/>
<line x1="303.35" x2="394.45" y1="184.55" y2="184.55" stroke="#f2f2f2" stroke-width="0.5"/>
<line x1="303.35" x2="394.45" y1="205.85" y2="205.85" stroke="#f2f2f2" stroke-width="0.5"/>
<line x1="303.35" x2="394.45" y1="227.15" y2="227.15" stroke="#f2f2f2" stroke-width="0.5"/>
<line x1="328.20" x2="328.20" y1="122.20" y2="214.50" stroke="#f2f2f2" stroke-width="0.5"/>
<line x1="369.60" x2="369.60" y1="122.20" y2="214.50" stroke="#f2f2f2" stroke-width="0.5"/>
<line x1="303.35" x2="394.45" y1="131.30" y2="131.30" stroke="#ebebeb" stroke-width="0.9"/>
<line x1="303.35" x2="394.45" y1="152.60" y2="152.60" stroke="#ebebeb" stroke-width="0.9"/>
<line x1="303.35" x2="394.45" y1="173.90" y2="173.90" stroke="#ebebeb" stroke-width="0.9"/>
<line x1="303.35" x2="394.45" y1="195.20" y2="195.20" stroke="#ebebeb" stroke-width="0.9"/>
<line x1="307.49" x2="307.49" y1="122.20" y2="214.50" stroke="#ebebeb" stroke-width="0.9"/>
<line x1="348.90" x2="348.90" y1="122.20" y2="214.50" stroke="#ebebeb" stroke-width="0.9"/>
<line x1="390.31" x2="390.31" y1="122.20" y2="214.50" stroke="#ebebeb" stroke-width="0.9"/>
<path d="M307.49,172.00 C309.22,171.75 314.39,172.00 317.84,170.50 C321.29,169.00 324.74,165.92 328.20,163.00 C331.65,160.08 335.10,155.90 338.55,153.00 C342.00,150.10 345.45,146.83 348.90,145.60 C352.35,144.37 355.80,145.60 359.25,145.60 C362.70,145.60 366.15,145.60 369.60,145.60 C373.06,145.60 376.51,145.60 379.96,145.60 C383.41,145.60 388.58,145.60 390.31,145.60 L390.31,158.50 C388.58,158.58 383.41,158.83 379.96,159.00 C376.51,159.17 373.06,159.25 369.60,159.50 C366.15,159.75 362.70,160.17 359.25,160.50 C355.80,160.83 352.35,161.08 348.90,161.50 C345.45,161.92 342.00,161.25 338.55,163.00 C335.10,164.75 331.65,169.08 328.20,172.00 C324.74,174.92 321.29,177.92 317.84,180.50 C314.39,183.08 309.22,186.33 307.49,187.50 Z" fill="#999" fill-opacity="0.48"/>
<path d="M307.49,171.50 C309.22,171.08 314.39,170.92 317.84,169.00 C321.29,167.08 324.74,163.33 328.20,160.00 C331.65,156.67 335.10,152.42 338.55,149.00 C342.00,145.58 345.45,140.83 348.90,139.50 C352.35,138.17 355.80,140.50 359.25,141.00 C362.70,141.50 366.15,142.08 369.60,142.50 C373.06,142.92 376.51,143.25 379.96,143.50 C383.41,143.75 388.58,143.92 390.31,144.00 L390.31,158.50 C388.58,158.58 383.41,158.93 379.96,159.00 C376.51,159.07 373.06,158.98 369.60,158.90 C366.15,158.82 362.70,158.63 359.25,158.50 C355.80,158.37 352.35,157.60 348.90,158.10 C345.45,158.60 342.00,159.52 338.55,161.50 C335.10,163.48 331.65,167.08 328.20,170.00 C324.74,172.92 321.29,176.58 317.84,179.00 C314.39,181.42 309.22,183.58 307.49,184.50 Z" fill="#999" fill-opacity="0.48"/>
<path d="M307.49,175.00 C309.22,174.75 314.39,174.92 317.84,173.50 C321.29,172.08 324.74,169.08 328.20,166.50 C331.65,163.92 335.10,159.98 338.55,158.00 C342.00,156.02 345.45,155.10 348.90,154.60 C352.35,154.10 355.80,154.87 359.25,155.00 C362.70,155.13 366.15,155.32 369.60,155.40 C373.06,155.48 376.51,155.48 379.96,155.50 C383.41,155.52 388.58,155.50 390.31,155.50" fill="none" stroke="#e0686e" stroke-width="1.7"/>
<path d="M307.49,181.00 C309.22,180.08 314.39,178.00 317.84,175.50 C321.29,173.00 324.74,169.25 328.20,166.00 C331.65,162.75 335.10,158.90 338.55,156.00 C342.00,153.10 345.45,149.83 348.90,148.60 C352.35,147.37 355.80,148.60 359.25,148.60 C362.70,148.60 366.15,148.60 369.60,148.60 C373.06,148.60 376.51,148.60 379.96,148.60 C383.41,148.60 388.58,148.60 390.31,148.60" fill="none" stroke="#1eaaaa" stroke-width="1.7"/>
<circle cx="307.49" cy="144.60" r="1.55" fill="#e4636a"/>
<circle cx="307.49" cy="172.00" r="1.55" fill="#e4636a"/>
<circle cx="307.49" cy="175.00" r="1.55" fill="#e4636a"/>
<circle cx="307.49" cy="178.00" r="1.55" fill="#e4636a"/>
<circle cx="307.49" cy="185.00" r="1.55" fill="#e4636a"/>
<circle cx="307.49" cy="188.00" r="1.55" fill="#e4636a"/>
<circle cx="307.49" cy="192.00" r="1.55" fill="#e4636a"/>
<circle cx="307.49" cy="160.40" r="1.55" fill="#15a0a3"/>
<circle cx="307.49" cy="166.00" r="1.55" fill="#15a0a3"/>
<circle cx="307.49" cy="168.00" r="1.55" fill="#15a0a3"/>
<circle cx="307.49" cy="170.00" r="1.55" fill="#15a0a3"/>
<circle cx="307.49" cy="180.00" r="1.55" fill="#15a0a3"/>
<circle cx="307.49" cy="195.00" r="1.55" fill="#15a0a3"/>
<circle cx="307.49" cy="201.60" r="1.55" fill="#15a0a3"/>
<circle cx="348.90" cy="140.00" r="1.55" fill="#15a0a3"/>
<circle cx="348.90" cy="143.00" r="1.55" fill="#15a0a3"/>
<circle cx="348.90" cy="148.00" r="1.55" fill="#15a0a3"/>
<circle cx="348.90" cy="152.00" r="1.55" fill="#15a0a3"/>
<circle cx="348.90" cy="146.00" r="1.55" fill="#e4636a"/>
<circle cx="348.90" cy="151.00" r="1.55" fill="#e4636a"/>
<circle cx="348.90" cy="155.00" r="1.55" fill="#e4636a"/>
<circle cx="348.90" cy="158.00" r="1.55" fill="#e4636a"/>
<circle cx="348.90" cy="160.00" r="1.55" fill="#e4636a"/>
</g>
<rect x="303.35" y="122.20" width="91.10" height="92.30" fill="none" stroke="#4a4a4a" stroke-width="0.72"/>
<rect x="303.35" y="109.50" width="91.10" height="12.70" fill="#d9d9d9" stroke="#4a4a4a" stroke-width="0.72"/>
<text x="348.90" y="118.65" font-size="6.4" fill="#1a1a1a" text-anchor="middle">600 IU Daily</text>
<line x1="307.49" x2="307.49" y1="214.50" y2="216.50" stroke="#333" stroke-width="0.8"/>
<text x="307.49" y="223.30" font-size="6.5" fill="#4d4d4d" style="stroke:none" text-anchor="middle">0</text>
<line x1="348.90" x2="348.90" y1="214.50" y2="216.50" stroke="#333" stroke-width="0.8"/>
<text x="348.90" y="223.30" font-size="6.5" fill="#4d4d4d" style="stroke:none" text-anchor="middle">6</text>
<line x1="390.31" x2="390.31" y1="214.50" y2="216.50" stroke="#333" stroke-width="0.8"/>
<text x="390.31" y="223.30" font-size="6.5" fill="#4d4d4d" style="stroke:none" text-anchor="middle">12</text>
<text x="92.7" y="233.0" font-size="8.1" fill="#000" text-anchor="middle">Weeks Post-Injury</text>
<text x="301.3" y="233.0" font-size="8.1" fill="#000" text-anchor="middle">Weeks Post-Injury</text>
<text transform="translate(196.3,113.6) rotate(-90)" font-size="8.1" fill="#000" text-anchor="middle">log(P1NP) ug/L</text>
<text x="108.4" y="251.1" font-size="8.2" fill="#000">Early Radiographic Healing</text>
<rect x="210.30" y="241.8" width="12.3" height="13" fill="#999" fill-opacity="0.36"/>
<line x1="210.30" x2="222.60" y1="248.8" y2="248.8" stroke="#e0686e" stroke-width="1.5"/>
<circle cx="216.45" cy="248.8" r="1.45" fill="#e4636a"/>
<text x="226.80" y="250.9" font-size="6.6" fill="#000">No</text>
<rect x="238.90" y="241.8" width="12.3" height="13" fill="#999" fill-opacity="0.36"/>
<line x1="238.90" x2="251.20" y1="248.8" y2="248.8" stroke="#1eaaaa" stroke-width="1.5"/>
<circle cx="245.05" cy="248.8" r="1.45" fill="#15a0a3"/>
<text x="255.40" y="250.9" font-size="6.6" fill="#000">Yes</text>
</g></svg>
</body></html>
